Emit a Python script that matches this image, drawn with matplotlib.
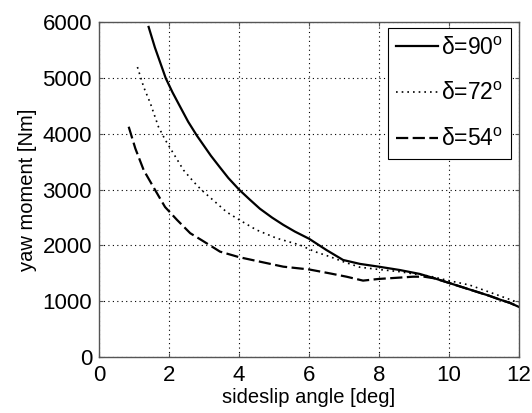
import matplotlib.pyplot as plt

# yaw moment vs sideslip angle for three steering angles
beta_90 = [1.42, 1.6, 1.91, 2.1, 2.32, 2.55, 2.8, 3.0, 3.2, 3.46, 3.7, 4.01, 4.3,
           4.6, 4.95, 5.27, 5.6, 6.01, 6.5, 6.98, 7.46, 8.0, 8.6, 9.17, 9.6, 10.0,
           10.4, 10.8, 11.15, 11.46, 11.75, 12.0]
mz_90 = [5920, 5550, 5000, 4750, 4490, 4220, 3970, 3790, 3610, 3400, 3210, 3000,
         2830, 2660, 2500, 2370, 2250, 2120, 1920, 1740, 1670, 1620, 1560, 1490,
         1410, 1330, 1250, 1170, 1100, 1030, 970, 900]

beta_72 = [1.1, 1.28, 1.47, 1.7, 1.89, 2.13, 2.42, 2.71, 2.94, 3.27, 3.65, 4.01,
           4.5, 5.08, 5.74, 6.17, 6.6, 6.98, 7.46, 8.0, 8.6, 9.0, 9.46, 10.0,
           10.6, 11.27, 11.93, 12.0]
mz_72 = [5200, 4840, 4550, 4130, 3900, 3650, 3350, 3140, 2990, 2810, 2600, 2460,
         2280, 2130, 2010, 1890, 1800, 1710, 1610, 1570, 1530, 1490, 1450, 1370,
         1290, 1140, 990, 980]

beta_54 = [0.85, 1.04, 1.28, 1.61, 1.89, 2.23, 2.61, 2.95, 3.46, 4.01, 4.6, 5.27,
           6.01, 6.6, 7.08, 7.55, 8.0, 8.5, 8.98, 9.3, 9.6, 10.0, 10.4, 10.8,
           11.15, 11.46, 11.75, 12.0]
mz_54 = [4130, 3740, 3350, 2990, 2690, 2460, 2220, 2090, 1890, 1790, 1710, 1620,
         1570, 1500, 1440, 1370, 1400, 1420, 1440, 1440, 1410, 1330, 1250, 1170,
         1100, 1030, 970, 900]

labels = [r'$\delta$=90$^{\mathrm{o}}$', r'$\delta$=72$^{\mathrm{o}}$', r'$\delta$=54$^{\mathrm{o}}$']

plt.rcParams['font.family'] = ['Liberation Sans', 'DejaVu Sans']
plt.rcParams['mathtext.fontset'] = 'custom'
plt.rcParams['mathtext.rm'] = 'Liberation Sans'
plt.rcParams['mathtext.it'] = 'Liberation Sans'

fig = plt.figure(figsize=(5.32, 4.13), dpi=100)
ax = fig.add_axes([0.186, 0.1356, 0.789, 0.81])

ax.plot(beta_90, mz_90, color='black', lw=1.6, ls='-', label=labels[0])
ax.plot(beta_72, mz_72, color='black', lw=1.2, ls=(0, (1, 2.4)), label=labels[1])
ax.plot(beta_54, mz_54, color='black', lw=1.6, ls=(0, (5.5, 2)), label=labels[2])

ax.set_xlim(0, 12)
ax.set_ylim(0, 6000)
ax.set_xticks(range(0, 13, 2))
ax.set_yticks(range(0, 6001, 1000))
ax.grid(True, color='black', ls=(0, (1, 3)), lw=0.8)
ax.tick_params(direction='in', top=True, right=True, labelsize=16, length=3,
               width=0.8, color='#555555')
ax.tick_params(axis='x', pad=6)
ax.tick_params(axis='y', pad=5)
for sp in ax.spines.values():
    sp.set_color('#555555')
    sp.set_linewidth(1.0)

ax.set_xlabel('sideslip angle [deg]', fontsize=14.5, labelpad=1)
ax.set_ylabel('yaw moment [Nm]', fontsize=14.5, labelpad=4)

leg = ax.legend(loc='upper right', bbox_to_anchor=(0.982, 0.982), borderaxespad=0,
                fontsize=16.5, handlelength=1.8, handletextpad=0.15,
                fancybox=False, framealpha=1, edgecolor='black',
                labelspacing=1.0, borderpad=0.35)
leg.get_frame().set_linewidth(0.8)

fig.savefig('out.png', dpi=100)
